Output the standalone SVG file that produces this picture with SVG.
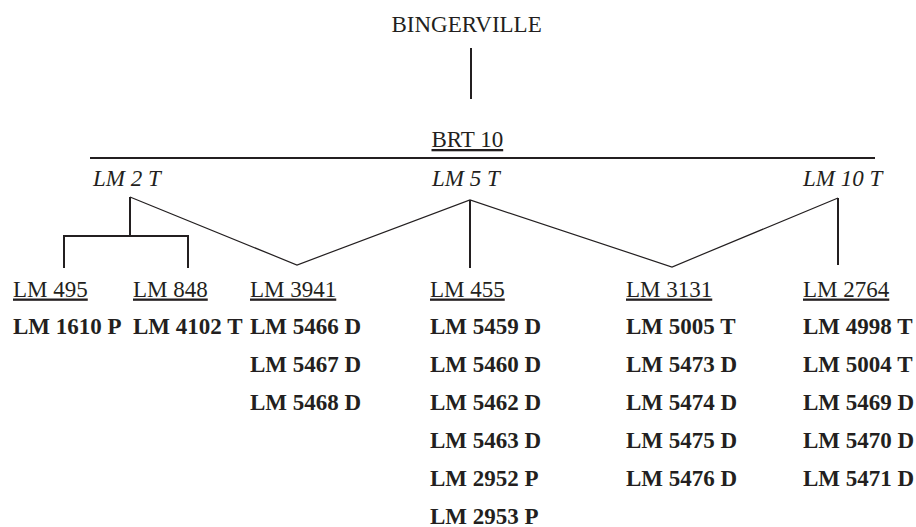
<svg xmlns="http://www.w3.org/2000/svg" width="916" height="527" viewBox="0 0 916 527">
<style>
text{font-family:'Liberation Serif','Times New Roman',Times,serif;font-size:23px;fill:#231f20}
.u{text-decoration:underline}
.i{font-style:italic}
.b{font-weight:bold}
.thick{stroke:#231f20;stroke-width:2;fill:none}
.thin{stroke:#231f20;stroke-width:1.2;fill:none}
</style>
<rect width="916" height="527" fill="#fff"/>
<g id="connectors">
<line class="thick" x1="471" y1="48" x2="471" y2="99"/>
<line class="thick" x1="90" y1="158" x2="875" y2="158"/>
<polyline class="thick" points="130,197 130,236"/>
<polyline class="thick" points="64,268 64,236 188,236 188,268"/>
<polyline class="thin" points="130,197 297,265 470,200 672,267 838,198"/>
<line class="thick" x1="470" y1="200" x2="470" y2="268"/>
<line class="thick" x1="838" y1="198" x2="838" y2="265"/>
</g>
<g id="bingerville"><text x="391.5" y="32">BINGERVILLE</text></g>
<g id="brt10"><text class="u" x="431.5" y="147">BRT 10</text></g>
<g id="lm2t"><text class="i" x="93" y="186">LM 2 T</text></g>
<g id="lm5t"><text class="i" x="432" y="186">LM 5 T</text></g>
<g id="lm10t"><text class="i" x="803" y="186">LM 10 T</text></g>
<g id="lm495">
<text class="u" x="13" y="296.5">LM 495</text>
<text class="b" x="13" y="333.5">LM 1610 P</text>
</g>
<g id="lm848">
<text class="u" x="133" y="296.5">LM 848</text>
<text class="b" x="133" y="333.5">LM 4102 T</text>
</g>
<g id="lm3941">
<text class="u" x="250" y="296.5">LM 3941</text>
<text class="b" x="250" y="333.5">LM 5466 D</text>
<text class="b" x="250" y="371.5">LM 5467 D</text>
<text class="b" x="250" y="409.5">LM 5468 D</text>
</g>
<g id="lm455">
<text class="u" x="430" y="296.5">LM 455</text>
<text class="b" x="430" y="333.5">LM 5459 D</text>
<text class="b" x="430" y="371.5">LM 5460 D</text>
<text class="b" x="430" y="409.5">LM 5462 D</text>
<text class="b" x="430" y="447.5">LM 5463 D</text>
<text class="b" x="430" y="485.5">LM 2952 P</text>
<text class="b" x="430" y="523.5">LM 2953 P</text>
</g>
<g id="lm3131">
<text class="u" x="626" y="296.5">LM 3131</text>
<text class="b" x="626" y="333.5">LM 5005 T</text>
<text class="b" x="626" y="371.5">LM 5473 D</text>
<text class="b" x="626" y="409.5">LM 5474 D</text>
<text class="b" x="626" y="447.5">LM 5475 D</text>
<text class="b" x="626" y="485.5">LM 5476 D</text>
</g>
<g id="lm2764">
<text class="u" x="803" y="296.5">LM 2764</text>
<text class="b" x="803" y="333.5">LM 4998 T</text>
<text class="b" x="803" y="371.5">LM 5004 T</text>
<text class="b" x="803" y="409.5">LM 5469 D</text>
<text class="b" x="803" y="447.5">LM 5470 D</text>
<text class="b" x="803" y="485.5">LM 5471 D</text>
</g>
</svg>
